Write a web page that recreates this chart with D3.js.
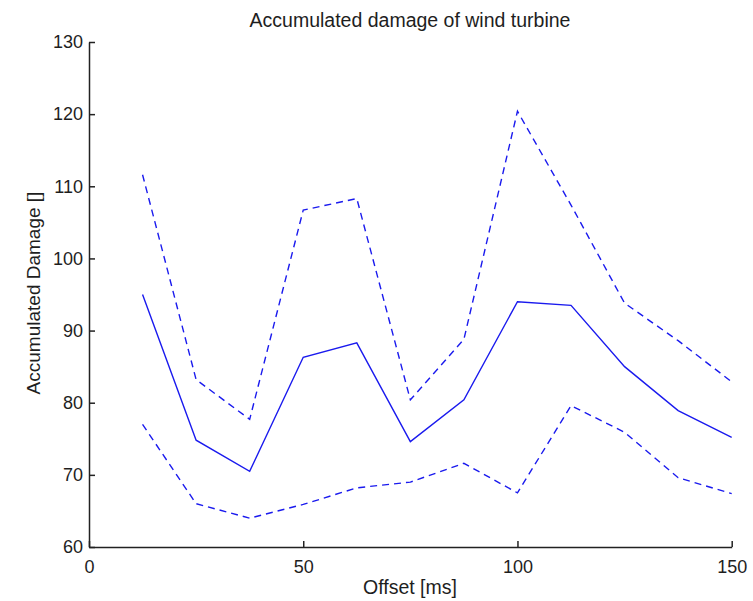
<!DOCTYPE html>
<html><head><meta charset="utf-8">
<script src="https://cdn.jsdelivr.net/npm/d3@7"></script>
<style>body{margin:0;background:#fff}text{font-family:"Liberation Sans",Arial,sans-serif}</style>
</head><body><svg id="c" width="753" height="601"></svg>
<script>
const offsets = [12.5,25,37.5,50,62.5,75,87.5,100,112.5,125,137.5,150];
const meanDamage = [95,74.8,70.5,86.3,88.3,74.6,80.4,94,93.5,85,78.9,75.2];
const upperDamage = [111.6,83.2,77.7,106.7,108.3,80.4,88.8,120.4,107.4,93.8,88.6,82.9];
const lowerDamage = [77,66,64,65.9,68.2,69,71.6,67.5,79.6,75.9,69.6,67.4];
const xTicks = [0,50,100,150];
const yTicks = [60,70,80,90,100,110,120,130];

const svg = d3.select('#c');
const x = d3.scaleLinear().domain([0,150]).range([89,731.7]);
const y = d3.scaleLinear().domain([60,130]).range([547,42]);

const xa = svg.append('g').attr('transform','translate(0,547)')
  .call(d3.axisBottom(x).tickValues(xTicks).tickSize(-6).tickPadding(13).tickSizeOuter(0));
const ya = svg.append('g').attr('transform','translate(89,0)')
  .call(d3.axisLeft(y).tickValues(yTicks).tickSize(-6).tickPadding(6).tickSizeOuter(0));
[xa,ya].forEach(a=>{
  a.selectAll('path,line').attr('stroke','#222').attr('stroke-width',1.5);
  a.selectAll('text').attr('font-size',18).attr('fill','#1e1e1e').attr('font-family','"Liberation Sans",Arial,sans-serif');
});

const line = d3.line().x((d,i)=>x(offsets[i])).y(d=>y(d));
const col = '#1a1aee';
svg.append('path').datum(meanDamage).attr('d',line).attr('fill','none').attr('stroke',col).attr('stroke-width',1.4);
[upperDamage,lowerDamage].forEach(s=>{
  svg.append('path').datum(s).attr('d',line).attr('fill','none').attr('stroke',col)
    .attr('stroke-width',1.4).attr('stroke-dasharray','7,5');
});

svg.append('text').attr('x',410).attr('y',27).attr('text-anchor','middle').attr('font-size',19.5).attr('fill','#1e1e1e')
  .text('Accumulated damage of wind turbine');
svg.append('text').attr('x',410).attr('y',594).attr('text-anchor','middle').attr('font-size',19.5).attr('fill','#1e1e1e')
  .text('Offset [ms]');
svg.append('text').attr('transform','translate(40,293) rotate(-90)').attr('text-anchor','middle').attr('font-size',19).attr('fill','#1e1e1e')
  .text('Accumulated Damage []');
</script></body></html>
